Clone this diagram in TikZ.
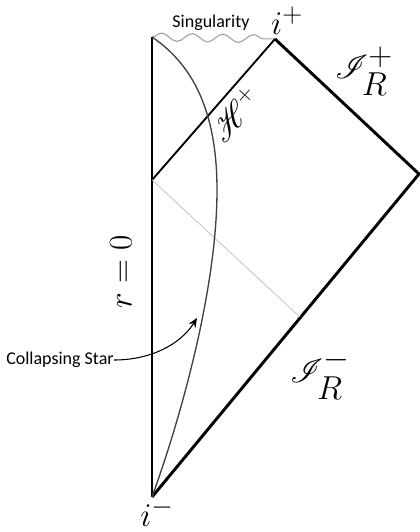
\documentclass[tikz,border=0pt]{standalone}
\usepackage{fontspec}
\usepackage{amsmath}
\usepackage{mathrsfs}
\setsansfont{Carlito}
\usetikzlibrary{arrows.meta, decorations.pathmorphing, calc}

\begin{document}
\begin{tikzpicture}[
  x=0.75pt, y=-0.75pt,
  >={Stealth[length=7pt, width=6pt]},
  edge/.style={line width=2.2pt},
  horizon/.style={line width=1.4pt},
  nullray/.style={line width=0.5pt, gray!55},
  sing/.style={gray!75, line width=0.8pt, decorate,
    decoration={snake, amplitude=3pt, segment length=23pt}},
  star/.style={line width=1pt, black!75},
  lbl/.style={font=\sffamily\fontsize{13.5}{15}\selectfont, inner sep=0pt},
  bigmath/.style={inner sep=0pt, font=\fontsize{28}{30}\selectfont},
  scri/.style={inner sep=0pt, font=\fontsize{34}{36}\selectfont}
]
\path[use as bounding box] (0,0) rectangle (420,532);

% corners of the diagram
\coordinate (top) at (152,37);
\coordinate (iplus) at (275,39);
\coordinate (izero) at (419,174);
\coordinate (iminus) at (152,497);
\coordinate (hbase) at (152,180);
\coordinate (rayend) at (300,317);
\coordinate (turn) at (217,190);
\coordinate (hit) at (197,318);

% boundary
\draw[edge] (iminus) -- (top);
\draw[edge] (iplus) -- (izero) -- (iminus);
\draw[sing] (top) -- (iplus);

% horizon and light ray
\draw[horizon] (hbase) -- (iplus);
\draw[nullray] (hbase) -- (rayend);

% surface of the star
\draw[star] (iminus) .. controls (180,420) and (217,290) .. (turn)
  .. controls (217,120) and (198,68) .. (top);

% labels
\node[lbl] (singlbl) at (211,23) {Singularity};
\node[bigmath] (iplbl) at (287,21) {$i^+$};
\node[bigmath] (imlbl) at (157,512) {$i^-$};
\node[scri] (scriplus) at (364,71) {$\mathscr{I}_R^+$};
\node[scri] (scriminus) at (320,374) {$\mathscr{I}_R^-$};
\node[bigmath, font=\fontsize{24}{26}\selectfont, rotate=90] (rlbl) at (121,272) {$r=0$};
\node[bigmath, font=\fontsize{23}{25}\selectfont, rotate=48] (hlbl) at (235,114) {$\mathscr{H}^+$};

\node[lbl] (cs) at (60,360) {Collapsing Star};
\draw[->, line width=0.8pt] (cs.east) .. controls (150,360) and (180,345) .. (hit);
\end{tikzpicture}
\end{document}
